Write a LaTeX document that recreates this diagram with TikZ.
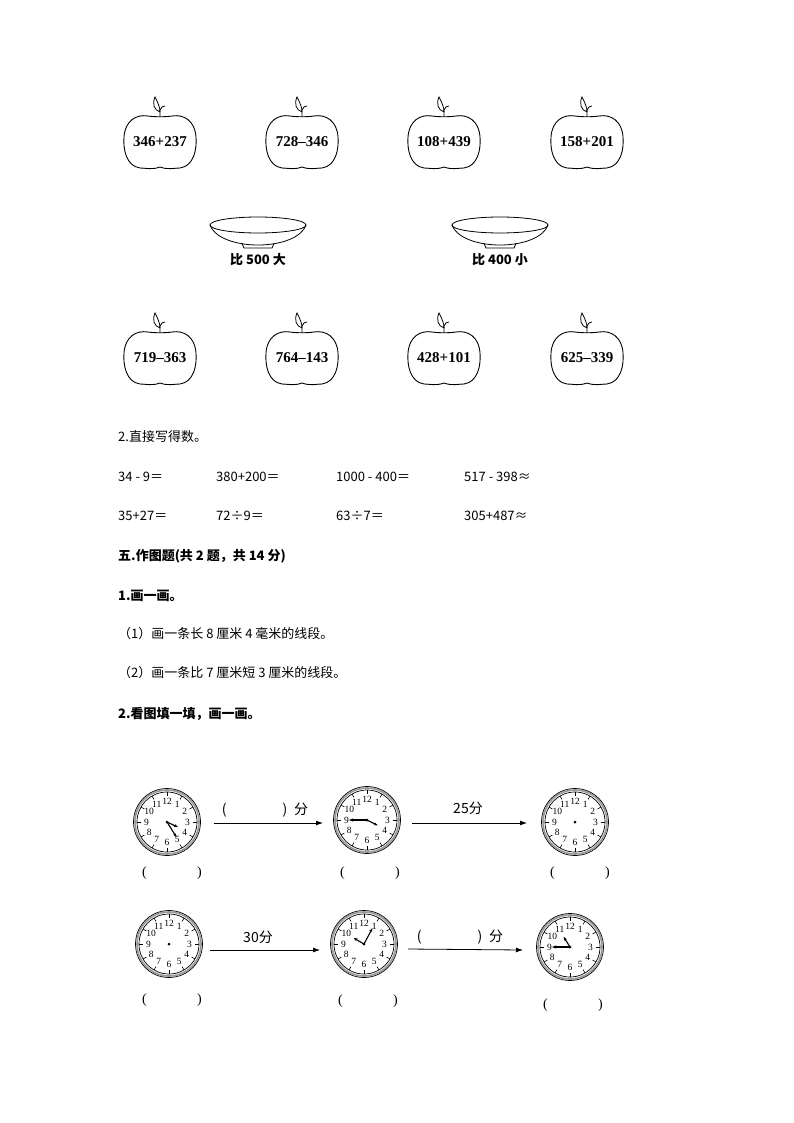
\documentclass[tikz,border=0pt]{standalone}
\usepackage{fontspec}
\setmainfont{Liberation Serif}
\newfontfamily\cjk{Noto Sans CJK SC}
\usetikzlibrary{arrows.meta}
\tikzset{
  apple/.pic={
    \draw[line width=0.9pt] (0,-26) .. controls (-8,-29) and (-14,-27) .. (-20,-27) .. controls (-34,-25) and (-37,-8) .. (-36,4) .. controls (-35,20) and (-24,27) .. (-12,25) .. controls (-6,24) and (6,24) .. (12,25) .. controls (24,27) and (35,20) .. (36,4) .. controls (37,-8) and (34,-25) .. (20,-27) .. controls (14,-27) and (8,-29) .. (0,-26);
    \draw[line width=0.8pt] (0,24) -- (0,31) .. controls (1,34) and (3,35) .. (5,35);
    \draw[line width=0.8pt] (0,29) .. controls (-6,31) and (-8,37) .. (-5,44) .. controls (-2,38) and (0,34) .. (0,29);
  },
  plate/.pic={
    \draw[line width=0.8pt] (0,0) ellipse (48 and 8);
    \draw[line width=0.8pt] (-48,0) .. controls (-44,-12) and (-24,-20) .. (0,-20) .. controls (24,-20) and (44,-12) .. (48,0);
    \draw[line width=0.8pt] (-16,-18.5) -- (-14,-23) -- (14,-23) -- (16,-18.5);
  },
  lbl/.style={font=\cjk\fontsize{13}{13}\selectfont, anchor=west, inner sep=0pt},
  bold/.style={font=\cjk\bfseries\fontsize{13}{13}\selectfont, anchor=west, inner sep=0pt},
  arr/.style={-{Latex[length=7pt,width=5pt]}, line width=0.8pt},
  par/.style={font=\fontsize{14}{14}\selectfont, inner sep=0pt},
  aptxt/.style={font=\bfseries\fontsize{15}{15}\selectfont},
}
\newcommand{\clockface}[4]{% x y name hands
  \begin{scope}[shift={(#1,#2)}, yscale=-1]
    \node[circle, minimum size=66pt, inner sep=0pt] (#3) at (0,0) {};
    \draw[line width=1.6pt, gray!80] (0,0) circle (32);
    \draw[line width=0.7pt] (0,0) circle (33.5);
    \draw[line width=0.7pt] (0,0) circle (30);
    \foreach \i in {1,...,12} {
      \draw[line width=0.6pt] ({90-30*\i}:30) -- ({90-30*\i}:26);
      \node[font=\fontsize{9.5}{9.5}\selectfont, inner sep=0pt] at ({90-30*\i}:20.5) {\i};
    }
    \fill (0,0) circle (1.5);
    #4
  \end{scope}}
\newcommand{\hands}[2]{%
  \draw[line width=1.1pt, -{Stealth[length=4pt]}] (0,0) -- (#1:12);
  \draw[line width=1.1pt, -{Stealth[length=4pt]}] (0,0) -- (#2:18);}
\begin{document}
\begin{tikzpicture}[x=1pt,y=-1pt]
\useasboundingbox (0,0) rectangle (794,1123);
% apples
\foreach \x/\t [count=\k] in {160/346+237,302/728--346,444/108+439,587/158+201} {
  \pic[yscale=-1] at (\x,141) {apple};
  \node[aptxt] (a\k) at (\x,142) {\t};
}
\foreach \x/\t [count=\k] in {160/719--363,302/764--143,444/428+101,587/625--339} {
  \pic[yscale=-1] at (\x,357) {apple};
  \node[aptxt] (b\k) at (\x,358) {\t};
}
\pic[yscale=-1] at (258,225) {plate};
\pic[yscale=-1] at (500,225) {plate};
\node[font=\cjk\bfseries\fontsize{13}{13}\selectfont] (p1) at (258,260) {比 500 大};
\node[font=\cjk\bfseries\fontsize{13}{13}\selectfont] (p2) at (500,260) {比 400 小};
% text
\node[lbl] (t1) at (118,437) {2.直接写得数。};
\node[lbl] (r1) at (118,477) {34 - 9＝};
\node[lbl] (r2) at (216,477) {380+200＝};
\node[lbl] (r3) at (336,477) {1000 - 400＝};
\node[lbl] (r4) at (464,477) {517 - 398≈};
\node[lbl] (s1) at (118,516) {35+27＝};
\node[lbl] (s2) at (216,516) {72÷9＝};
\node[lbl] (s3) at (336,516) {63÷7＝};
\node[lbl] (s4) at (464,516) {305+487≈};
\node[bold] (h5) at (118,556) {五.作图题(共 2 题，共 14 分)};
\node[bold] (h6) at (118,596) {1.画一画。};
\node[lbl] (q1) at (118,634) {（1）画一条长 8 厘米 4 毫米的线段。};
\node[lbl] (q2) at (118,673) {（2）画一条比 7 厘米短 3 厘米的线段。};
\node[bold] (h7) at (118,714) {2.看图填一填，画一画。};
% clocks
\clockface{167}{822}{c1}{\hands{-25}{-58}}
\clockface{367}{820}{c2}{\hands{-27}{180}}
\clockface{575}{822}{c3}{}
\clockface{169}{944}{c4}{}
\clockface{364}{944}{c5}{\hands{150}{62}}
\clockface{570}{947}{c6}{\hands{122}{180}}
\coordinate (e1) at (214,823); \coordinate (e2) at (323,823);
\coordinate (e3) at (412,823); \coordinate (e4) at (527,823);
\coordinate (e5) at (210,950); \coordinate (e6) at (320,950);
\coordinate (e7) at (408,949); \coordinate (e8) at (523,950);
\draw[arr] (e1) -- (e2);
\draw[arr] (e3) -- (e4);
\draw[arr] (e5) -- (e6);
\draw[arr] (e7) -- (e8);
\node[font=\cjk\fontsize{14}{14}\selectfont] (l1) at (265,810) {(\hspace{4em})\hspace{0.5em}分};
\node[font=\cjk\fontsize{14}{14}\selectfont] (l2) at (468,808) {25分};
\node[font=\cjk\fontsize{14}{14}\selectfont] (l3) at (258,937) {30分};
\node[font=\cjk\fontsize{14}{14}\selectfont] (l4) at (460,937) {(\hspace{4em})\hspace{0.5em}分};
\node[par] (f1) at (172,873) {(\hspace{3.6em})};
\node[par] (f2) at (370,873) {(\hspace{3.6em})};
\node[par] (f3) at (580,873) {(\hspace{3.6em})};
\node[par] (f4) at (172,1000) {(\hspace{3.6em})};
\node[par] (f5) at (368,1001) {(\hspace{3.6em})};
\node[par] (f6) at (573,1005) {(\hspace{3.6em})};
\end{tikzpicture}
\end{document}
